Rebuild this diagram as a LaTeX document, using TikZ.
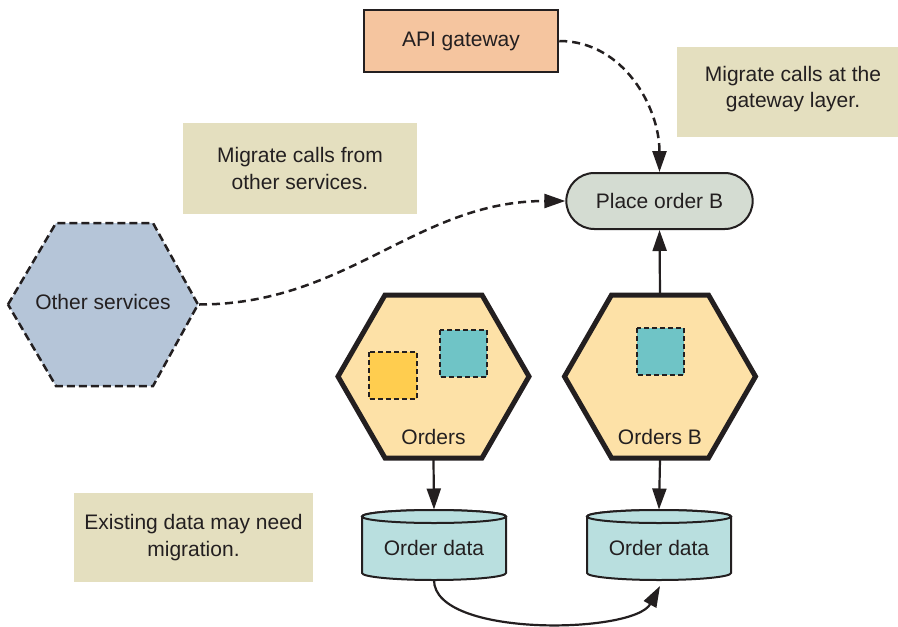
\documentclass[tikz,border=0pt]{standalone}
\usepackage{fontspec}
\setmainfont{Liberation Sans}
\usetikzlibrary{arrows.meta,shapes.misc}
\definecolor{ink}{HTML}{231F20}
\definecolor{notefill}{HTML}{E4DFBF}
\definecolor{apifill}{HTML}{F5C59F}
\definecolor{placefill}{HTML}{D4DCD2}
\definecolor{hexfill}{HTML}{FDE1A7}
\definecolor{yellowsq}{HTML}{FFCD4F}
\definecolor{tealsq}{HTML}{6FC4C6}
\definecolor{otherfill}{HTML}{B5C5D8}
\definecolor{cylfill}{HTML}{B9DFDF}
\tikzset{
  txt/.style={font=\fontsize{21}{26.5}\selectfont, text=ink, align=center},
  notebox/.style={txt, fill=notefill, inner sep=0pt},
  anchorbox/.style={draw=none, inner sep=0pt, outer sep=0pt},
  hexthick/.style={draw=ink, fill=hexfill, line width=5pt, line join=miter},
  hexdash/.style={draw=ink, fill=otherfill, line width=2.5pt, dash pattern=on 8pt off 4pt},
  sqbox/.style={draw=ink, line width=2pt, dash pattern=on 5pt off 3pt},
  cyl/.style={draw=ink, fill=cylfill, line width=2pt},
  conn/.style={draw=ink, line width=2.2pt, -{Triangle[length=21pt,width=14pt]}},
  dconn/.style={conn, line width=2.5pt, dash pattern=on 8pt off 5pt},
}
\begin{document}
\begin{tikzpicture}[x=1pt,y=1pt]
\useasboundingbox (0,0) rectangle (898,-627);

% notes
\fill[notefill] (677,-47) rectangle (898,-137);
\node[txt] (n2) at (793,-89) {Migrate calls at the\\gateway layer.};
\node[notebox, minimum width=234, minimum height=91] (n1) at (300,-168.5) {Migrate calls from\\other services.};
\node[notebox, minimum width=239, minimum height=89] (n3) at (193.5,-537.5) {Existing data may need\\migration.};

% API gateway
\node[txt, draw=ink, fill=apifill, line width=2.5pt, minimum width=194, minimum height=62] (api) at (461,-41) {API gateway};

% Place order B
\node[txt, rounded rectangle, draw=ink, fill=placefill, line width=2pt, minimum width=193, minimum height=56] (place) at (659.5,-201) {Place order B};

% Other services hexagon
\draw[hexdash] (8,-304.5) -- (56,-223) -- (153,-223) -- (198,-304.5) -- (153,-386) -- (56,-386) -- cycle;
\node[anchorbox, minimum width=192, minimum height=165] (other) at (103,-304.5) {};
\node[txt] (otherlbl) at (103,-301.5) {Other services};

% Orders hexagon
\draw[hexthick] (338,-376.5) -- (385,-295) -- (482,-295) -- (529,-376.5) -- (482,-458) -- (385,-458) -- cycle;
\node[anchorbox, minimum width=196, minimum height=167] (orders) at (433.5,-376.5) {};
\draw[sqbox, fill=yellowsq] (369,-352) rectangle (417,-399);
\draw[sqbox, fill=tealsq] (440,-330) rectangle (487,-377);
\node[txt] (orderslbl) at (433.5,-437) {Orders};

% Orders B hexagon
\draw[hexthick] (564.5,-376.5) -- (611.5,-295) -- (708.5,-295) -- (755.5,-376.5) -- (708.5,-458) -- (611.5,-458) -- cycle;
\node[anchorbox, minimum width=196, minimum height=167] (ordersb) at (660,-376.5) {};
\draw[sqbox, fill=tealsq] (637,-328) rectangle (684,-375);
\node[txt] (ordersblbl) at (660,-437) {Orders B};

% cylinders
\filldraw[cyl] (362,-516.5) -- (362,-573) arc[start angle=180,end angle=360,x radius=72,y radius=7] -- (506,-516.5) arc[start angle=0,end angle=180,x radius=72,y radius=6.5] -- cycle;
\draw[cyl] (434,-516.5) ellipse[x radius=72,y radius=6.5];
\node[anchorbox, txt, minimum width=144, minimum height=63.5] (d1) at (434,-548.25) {Order data};

\filldraw[cyl] (587,-516.5) -- (587,-573) arc[start angle=180,end angle=360,x radius=72,y radius=7] -- (731,-516.5) arc[start angle=0,end angle=180,x radius=72,y radius=6.5] -- cycle;
\draw[cyl] (659,-516.5) ellipse[x radius=72,y radius=6.5];
\node[anchorbox, txt, minimum width=144, minimum height=63.5] (d2) at (659,-548.25) {Order data};

% connectors
\draw[dconn] (api.east) to[out=0,in=90] (place.north);
\draw[dconn] (other.east) to[out=0,in=180] (place.west);
\draw[conn] (ordersb.north) -- (place.south);
\draw[conn] (orders.south) -- ([yshift=7]d1.north);
\draw[conn] (ordersb.south) -- ([yshift=7]d2.north);
\draw[conn] (d1.south) .. controls (434,-638) and (634,-634) .. ([xshift=1,yshift=-6]d2.south);
\end{tikzpicture}
\end{document}
